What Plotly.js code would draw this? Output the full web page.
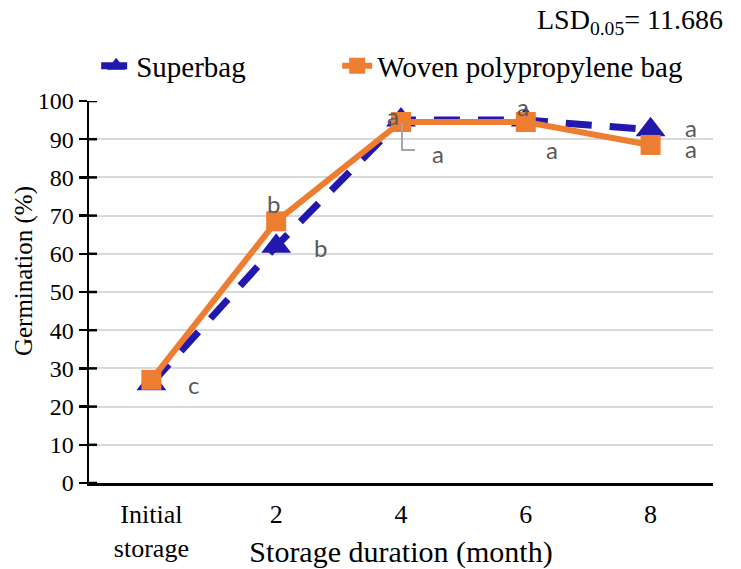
<!DOCTYPE html>
<html>
<head>
<meta charset="utf-8">
<script src="https://cdn.plot.ly/plotly-3.0.1.min.js"></script>
<style>html,body{margin:0;padding:0;background:#fff;}#chart{width:741px;height:569px;}</style>
</head>
<body>
<div id="chart"></div>
<script>
// ---- data ----
const categories = ["Initial<br>storage", "2", "4", "6", "8"];
const superbag = [26, 62, 95, 95, 92.5];
const woven = [27, 68.5, 94.5, 94.5, 88.5];
const superbagLabels = ["c", "b", "a", "a", "a"];
const wovenLabels = ["", "b", "a", "a", "a"];
const yTicks = [0, 10, 20, 30, 40, 50, 60, 70, 80, 90, 100];
const lsdText = "LSD<sub>0.05</sub>= 11.686";

// label offsets (pixels) – style only
const sbShift = [[42, -1], [44, -1], [-8, 5], [-3, 14], [40, 2]];
const wvShift = [[0, 0], [-3, 18], [37, -31], [26, -27], [40, -4]];

const serif = "Liberation Serif";
const labelFont = {family: "Lato", size: 24, color: "#595959"};

const traces = [
  {
    x: categories, y: superbag, name: "Superbag", type: "scatter", mode: "lines+markers",
    line: {color: "#2318AE", width: 7, dash: "26px,18px"},
    marker: {symbol: "triangle-up", size: 26, color: "#2318AE"},
    hoverinfo: "skip", legendwidth: 196
  },
  {
    x: categories, y: woven, name: "Woven polypropylene bag", type: "scatter", mode: "lines+markers",
    line: {color: "#ED7D31", width: 6},
    marker: {symbol: "square", size: 20, color: "#ED7D31"},
    hoverinfo: "skip", legendwidth: 340
  }
];

const annotations = [];
categories.forEach((c, i) => {
  if (superbagLabels[i]) annotations.push({
    x: i, y: superbag[i], xref: "x", yref: "y", text: superbagLabels[i], showarrow: false,
    xshift: sbShift[i][0], yshift: sbShift[i][1], font: labelFont
  });
  if (wovenLabels[i]) annotations.push({
    x: i, y: woven[i], xref: "x", yref: "y", text: wovenLabels[i], showarrow: false,
    xshift: wvShift[i][0], yshift: wvShift[i][1], font: labelFont
  });
});
annotations.push({
  x: 1.0192, y: 1.207, xref: "paper", yref: "paper", xanchor: "right", yanchor: "middle",
  text: lsdText, showarrow: false, font: {family: serif, size: 28, color: "#000"}
});
annotations.push({
  x: -0.104, xref: "paper", y: 0.555, yref: "paper", text: "Germination (%)", showarrow: false,
  textangle: -90, font: {family: serif, size: 25, color: "#000"}, xanchor: "center", yanchor: "middle"
});
// inside half of the crossing tick marks on the y axis
const shapes = yTicks.map(v => ({
  type: "line", xref: "paper", yref: "y", x0: 0, x1: 0.0128, y0: v, y1: v,
  line: {color: "#000", width: 2.5}
}));
shapes.push({
  type: "path", xref: "x", yref: "y", xsizemode: "pixel", ysizemode: "pixel",
  xanchor: 2, yanchor: woven[2],
  path: "M 1,-1 L 1,-28 L 14,-28",
  line: {color: "#A6A6A6", width: 2}
});

const layout = {
  width: 741, height: 569,
  margin: {l: 89, r: 28, t: 101, b: 86},
  paper_bgcolor: "#fff", plot_bgcolor: "#fff",
  font: {family: serif, color: "#000"},
  showlegend: true,
  legend: {
    orientation: "h", x: 0.0115, xanchor: "left", y: 1.092, yanchor: "middle",
    font: {family: serif, size: 29, color: "#000"}, bgcolor: "rgba(0,0,0,0)"
  },
  xaxis: {
    type: "category", range: [-0.5, 4.5], showgrid: false, zeroline: false,
    showline: true, linecolor: "#000", linewidth: 2.5,
    ticks: "outside", ticklen: 6, tickcolor: "rgba(0,0,0,0)",
    tickfont: {family: serif, size: 26, color: "#000"},
    title: {text: "Storage duration (month)", font: {family: serif, size: 30, color: "#000"}, standoff: 7}
  },
  yaxis: {
    range: [0, 100], tickvals: yTicks, ticksuffix: "\u2002", showgrid: true, gridcolor: "#D9D9D9", gridwidth: 2,
    zeroline: false, showline: true, linecolor: "#000", linewidth: 2.5,
    ticks: "outside", ticklen: 8, tickwidth: 2.5, tickcolor: "#000",
    tickfont: {family: serif, size: 24, color: "#000"}
  },
  shapes: shapes,
  annotations: annotations
};

Plotly.newPlot("chart", traces, layout, {staticPlot: true});
</script>
</body>
</html>
